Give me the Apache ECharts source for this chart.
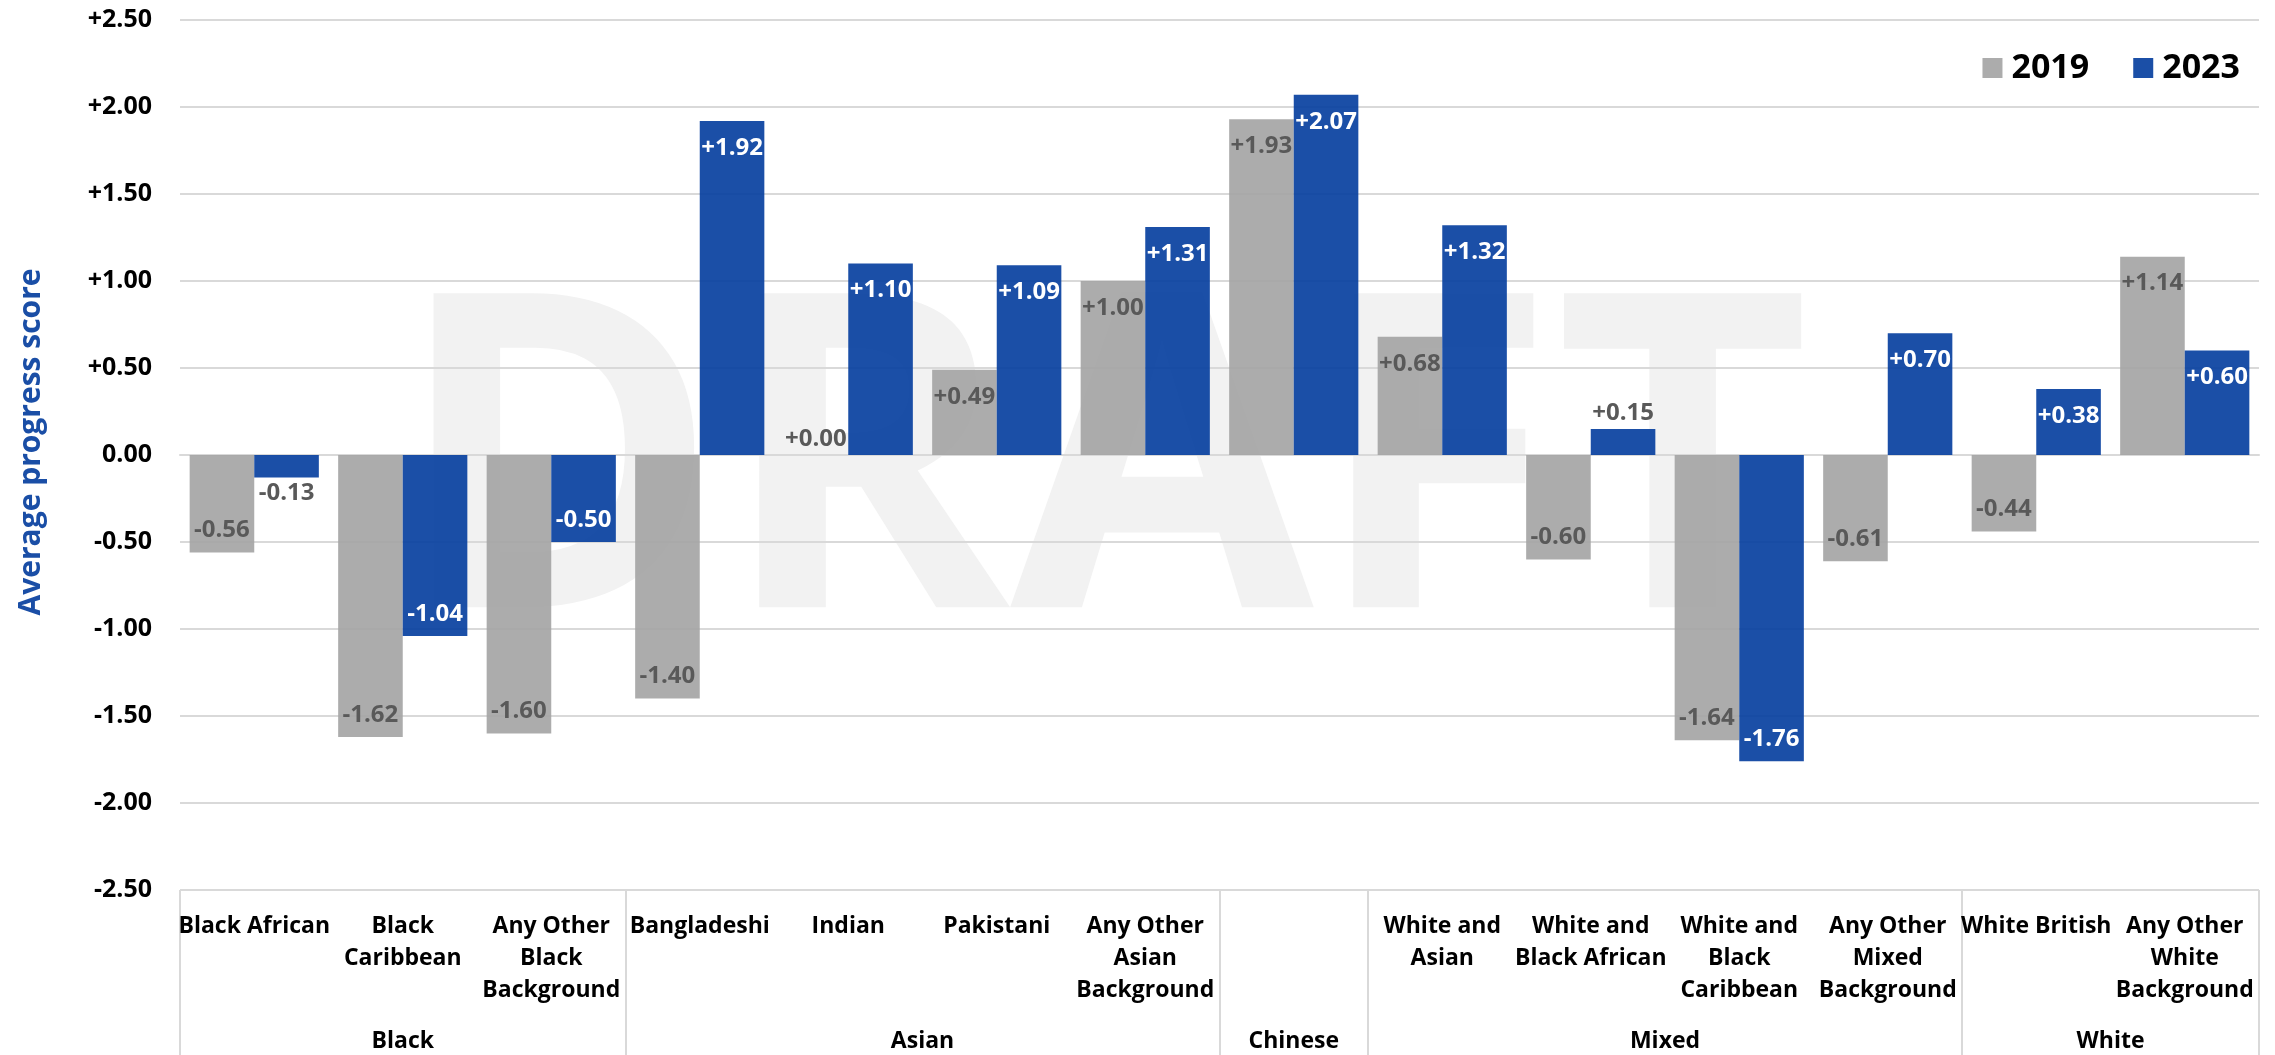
<!DOCTYPE html>
<html>
<head>
<meta charset="utf-8">
<script src="https://cdn.jsdelivr.net/npm/echarts@6/dist/echarts.min.js"></script>
<style>
html,body{margin:0;padding:0;background:#fff;}
#chart{width:2275px;height:1055px;}
</style>
</head>
<body>
<div id="chart"></div>
<script>
// ---- data ----
const categories = ['Black African', 'Black\nCaribbean', 'Any Other\nBlack\nBackground', 'Bangladeshi', 'Indian', 'Pakistani', 'Any Other\nAsian\nBackground', 'Chinese', 'White and\nAsian', 'White and\nBlack African', 'White and\nBlack\nCaribbean', 'Any Other\nMixed\nBackground', 'White British', 'Any Other\nWhite\nBackground'];
const groupNames = ['Black', 'Asian', 'Chinese', 'Mixed', 'White'];
const groupSizes = [3, 4, 1, 4, 2];
const seriesNames = ['2019', '2023'];
const values2019 = [-0.56, -1.62, -1.60, -1.40, 0.00, 0.49, 1.00, 1.93, 0.68, -0.60, -1.64, -0.61, -0.44, 1.14];
const values2023 = [-0.13, -1.04, -0.50, 1.92, 1.10, 1.09, 1.31, 2.07, 1.32, 0.15, -1.76, 0.70, 0.38, 0.60];
const yMin = -2.5, yMax = 2.5, yStep = 0.5;

// ---- helpers ----
const FONT = 'Open Sans';
function fmt(v) { return v > 0 ? '+' + v.toFixed(2) : (v === 0 ? '+0.00' : v.toFixed(2)); }
function tickFmt(v) { return v > 0 ? '+' + v.toFixed(2) : (Math.abs(v) < 1e-9 ? '0.00' : v.toFixed(2)); }

// group boundaries / centers in category units
const groupEdges = [0];
groupSizes.forEach(s => groupEdges.push(groupEdges[groupEdges.length - 1] + s));
const groupCenters = groupSizes.map((s, i) => groupEdges[i] + s / 2);
const groupOfCat = [];
groupSizes.forEach((s, gi) => { for (let k = 0; k < s; k++) groupOfCat.push(groupNames[gi]); });

function makeData(vals, insideColor) {
  return vals.map(v => {
    const outside = Math.abs(v) < 0.2;
    let position, distance, color;
    if (outside) {
      position = v >= 0 ? 'top' : 'bottom';
      distance = 4;
      color = '#595959';
    } else {
      position = v >= 0 ? 'insideTop' : 'insideBottom';
      distance = v >= 0 ? 15 : 10;
      color = insideColor;
    }
    return { value: v, label: { position: position, distance: distance, color: color } };
  });
}

const chart = echarts.init(document.getElementById('chart'), null, { renderer: 'canvas' });
const option = {
  backgroundColor: '#ffffff',
  animation: false,
  textStyle: { fontFamily: FONT },
  grid: { left: 180, right: 16, top: 20, bottom: 165, containLabel: false, outerBoundsMode: 'none' },
  graphic: [{
    type: 'text',
    z: -10,
    x: 1102, y: 482,
    style: {
      text: 'DRAFT',
      fill: '#f2f2f2',
      font: 'bold 440px "Open Sans"',
      textAlign: 'center',
      textVerticalAlign: 'middle'
    }
  }],
  legend: {
    data: seriesNames,
    right: 30, top: 46,
    icon: 'rect', itemWidth: 20, itemHeight: 20, itemGap: 44,
    textStyle: { fontFamily: FONT, fontSize: 34, fontWeight: 'bold', color: '#000', padding: [0, 0, 0, 4] }
  },
  xAxis: [{
    type: 'category',
    data: categories,
    position: 'bottom',
    axisLine: { show: true, lineStyle: { color: '#d9d9d9', width: 2 } },
    axisTick: { show: false },
    axisLabel: {
      interval: 0, margin: 20,
      fontFamily: FONT, fontSize: 23, fontWeight: 'bold', color: '#000', lineHeight: 32,
      formatter: (val, idx) => (val === groupOfCat[idx] ? '' : val)
    },
    splitLine: { show: false }
  }, {
    type: 'value',
    min: 0, max: categories.length,
    position: 'bottom',
    axisLine: { show: false },
    splitLine: { show: false },
    axisTick: { show: true, customValues: groupEdges, length: 165, lineStyle: { color: '#d9d9d9', width: 2 } },
    axisLabel: {
      customValues: groupCenters, margin: 135,
      fontFamily: FONT, fontSize: 23, fontWeight: 'bold', color: '#000', lineHeight: 32,
      formatter: (v) => { const i = groupCenters.indexOf(v); return i >= 0 ? groupNames[i] : ''; }
    }
  }],
  yAxis: {
    type: 'value',
    min: yMin, max: yMax, interval: yStep,
    name: 'Average progress score',
    nameLocation: 'middle',
    nameGap: 134,
    nameTextStyle: { fontFamily: FONT, fontSize: 30, fontWeight: 'bold', color: '#1a4ea6', padding: [0, 0, 0, 26] },
    axisLine: { show: false },
    axisTick: { show: false },
    axisLabel: { margin: 28, fontFamily: FONT, fontSize: 25, fontWeight: 'bold', color: '#000', formatter: tickFmt },
    splitLine: { lineStyle: { color: '#d9d9d9', width: 2 } }
  },
  series: [{
    name: seriesNames[0],
    type: 'bar',
    xAxisIndex: 0,
    barGap: '0%',
    barCategoryGap: '13%',
    itemStyle: { color: 'rgba(163,163,163,0.9)' },
    label: { show: true, formatter: p => fmt(p.value), fontFamily: FONT, fontSize: 24, fontWeight: 'bold' },
    data: makeData(values2019, '#595959')
  }, {
    name: seriesNames[1],
    type: 'bar',
    xAxisIndex: 0,
    barGap: '0%',
    barCategoryGap: '13%',
    itemStyle: { color: 'rgba(8,64,160,0.92)' },
    label: { show: true, formatter: p => fmt(p.value), fontFamily: FONT, fontSize: 24, fontWeight: 'bold' },
    data: makeData(values2023, '#ffffff')
  }]
};
chart.setOption(option);
</script>
</body>
</html>
